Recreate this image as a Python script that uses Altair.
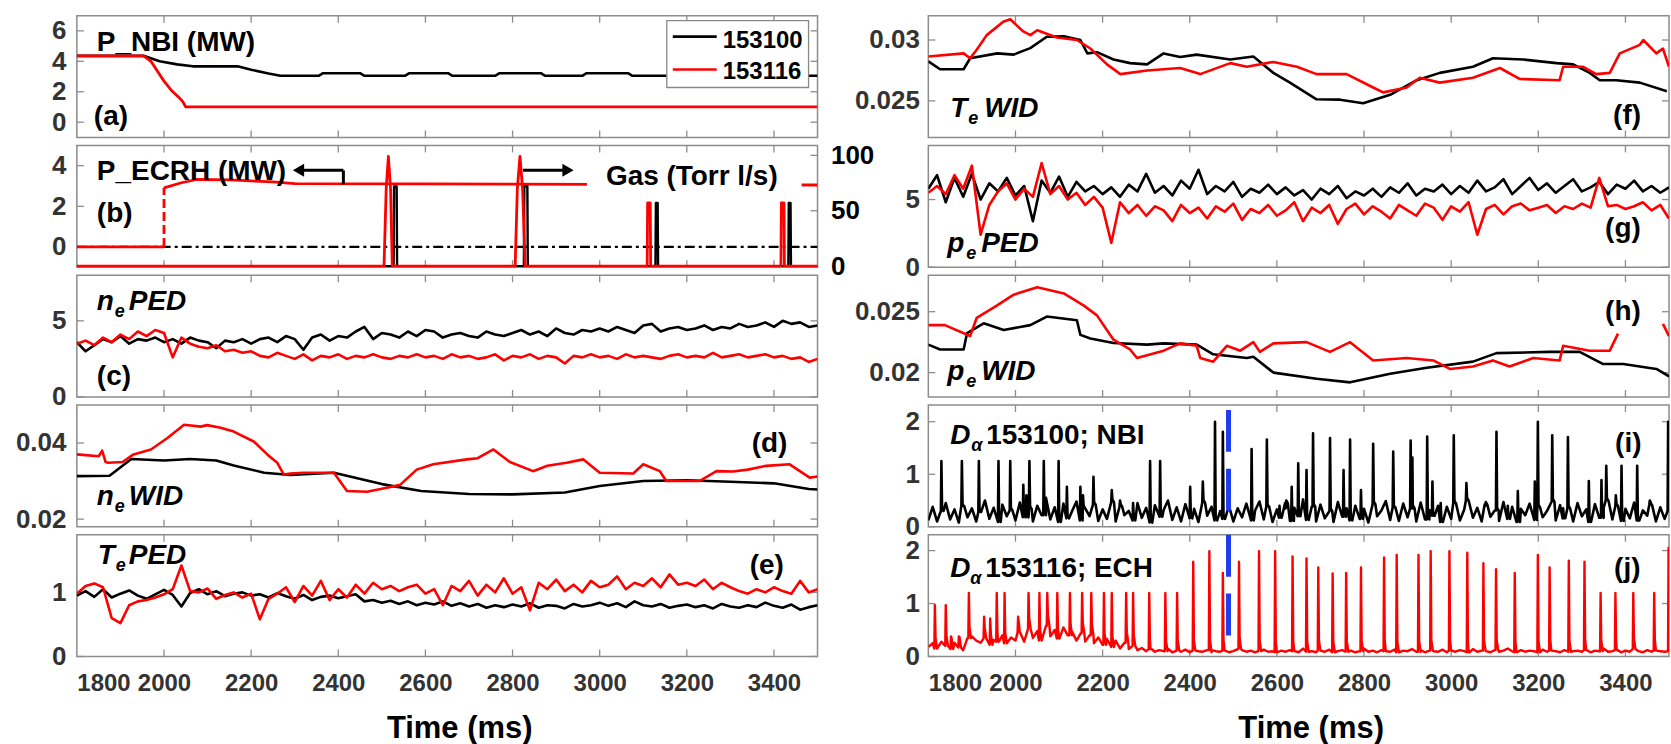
import altair as alt
import pandas as pd

FONT = "Liberation Sans"
W, H = 742, 122
BLK, RED, BLUE, LBL, FRAME = "#000000", "#ff0000", "#1e3cf0", "#333333", "#8c8c8c"
LW = 2.6
X_DOMAIN = [1800, 3500]
X_TICKS = [1800, 2000, 2200, 2400, 2600, 2800, 3000, 3200, 3400]
T20 = list(range(1800, 3501, 20))
T10 = list(range(1800, 3501, 10))

# ---------------- (a) P_NBI ----------------
nbi_black_t = [1800, 1953, 1990, 2030, 2066, 2169, 2200, 2240, 2267, 2355, 2365, 2450, 2460, 2553, 2563,
               2652, 2662, 2760, 2770, 2865, 2875, 2960, 2970, 3065, 3075, 3500]
nbi_black_v = [4.36, 4.36, 4.0, 3.8, 3.67, 3.67, 3.45, 3.2, 3.05, 3.05, 3.22, 3.22, 3.05, 3.05, 3.22,
               3.22, 3.05, 3.05, 3.22, 3.22, 3.05, 3.05, 3.22, 3.22, 3.05, 3.05]
nbi_red_t = [1800, 1953, 1970, 1985, 2000, 2019, 2035, 2042, 2050, 3500]
nbi_red_v = [4.36, 4.36, 4.0, 3.34, 2.7, 2.03, 1.6, 1.4, 1.0, 1.0]

# ---------------- (b) P_ECRH and gas ----------------
ecrh_black_t = [1800, 3500]
ecrh_black_v = [0, 0]
ecrh_red_t = [1800, 2000, 2000, 2040, 2075, 2150, 2250, 2300, 2600, 3000, 3500]
ecrh_red_v = [0, 0, 2.91, 3.16, 3.32, 3.30, 3.20, 3.12, 3.10, 3.08, 3.05]
ecrh_red_seg = [0, 0, 1, 1, 1, 1, 1, 1, 1, 1, 1]
ecrh_jump_t = [2000, 2000]
ecrh_jump_v = [0, 2.91]
gas_red_t = [1800, 2505, 2510, 2515, 2520, 2524, 2806, 2811, 2817, 2823, 2829,
             3109, 3110, 3116, 3117, 3416, 3417, 3423, 3424, 3500]
gas_red_v = [0, 0, 70, 99, 70, 0, 0, 70, 99, 70, 0, 0, 57, 57, 0, 0, 57, 57, 0, 0]
gas_black_t = [1800, 2527, 2528, 2534, 2535, 2826, 2827, 2834, 2835, 3128, 3129, 3133, 3134,
               3433, 3434, 3438, 3439, 3500]
gas_black_v = [0, 0, 72, 72, 0, 0, 72, 72, 0, 0, 57, 57, 0, 0, 57, 57, 0, 0]

# ---------------- (c) n_e PED (20 ms grid) ----------------
ne_ped_black = [3.6, 3.0, 3.4, 3.8, 3.6, 4.0, 3.5, 3.8, 3.7, 3.9, 3.6,
                3.8, 3.5, 3.9, 3.7, 3.6, 3.2, 3.7, 3.6, 3.8, 3.5,
                3.8, 3.9, 3.6, 4.0, 3.8, 3.1, 3.9, 4.1, 3.7, 4.0,
                3.9, 4.3, 4.6, 3.8, 4.2, 4.1, 3.9, 4.3, 4.0, 4.4,
                4.3, 3.9, 4.1, 4.2, 4.0, 3.9, 4.3, 4.1, 4.0, 4.2,
                4.4, 4.1, 4.3, 4.0, 4.5, 4.2, 4.1, 4.4, 4.3, 4.5,
                4.3, 4.6, 4.4, 4.2, 4.7, 4.8, 4.3, 4.5, 4.6, 4.4,
                4.5, 4.7, 4.4, 4.6, 4.5, 4.8, 4.6, 4.7, 4.9, 4.6,
                5.0, 4.8, 4.9, 4.6, 4.7]
ne_ped_red = [3.5, 3.7, 3.4, 3.9, 3.6, 4.1, 3.8, 4.3, 4.0, 4.4, 4.2,
              2.6, 3.9, 3.5, 3.3, 3.2, 3.4, 3.0, 3.1, 2.9, 3.0,
              2.7, 2.6, 2.9, 2.7, 2.5, 2.8, 2.4, 2.7, 2.6, 2.8,
              2.5, 2.7, 2.6, 2.8, 2.6, 2.5, 2.7, 2.6, 2.8, 2.6,
              2.7, 2.5, 2.8, 2.6, 2.7, 2.5, 2.6, 2.8, 2.4, 2.7,
              2.6, 2.8, 2.5, 2.7, 2.6, 2.2, 2.7, 2.6, 2.8, 2.6,
              2.7, 2.5, 2.8, 2.6, 2.7, 2.6, 2.5, 2.7, 2.8, 2.6,
              2.7, 2.6, 2.9, 2.6, 2.7, 2.8, 2.6, 2.7, 2.8, 2.6,
              2.7, 2.5, 2.6, 2.3, 2.5]

# ---------------- (d) n_e WID ----------------
ne_wid_black_t = [1800, 1875, 1925, 2000, 2060, 2120, 2160, 2230, 2290, 2390, 2500, 2590, 2700, 2800,
                  2920, 3000, 3100, 3200, 3300, 3400, 3480, 3500]
ne_wid_black_v = [0.0313, 0.0314, 0.0358, 0.0354, 0.0358, 0.0354, 0.0341, 0.0322, 0.0316, 0.0322, 0.0292,
                  0.0274, 0.0266, 0.0265, 0.0270, 0.0287, 0.0300, 0.0302, 0.0298, 0.0294, 0.0279, 0.0278]
ne_wid_red_t = [1800, 1850, 1858, 1866, 1872, 1905, 1930, 1970, 2008, 2046, 2084, 2099, 2130, 2160, 2206,
                2237, 2260, 2275, 2290, 2320, 2390, 2420, 2466, 2500, 2542, 2580, 2618, 2695, 2720, 2756,
                2794, 2847, 2880, 2924, 2962, 3000, 3077, 3100, 3138, 3153, 3229, 3268, 3306, 3340, 3382,
                3436, 3482, 3500]
ne_wid_red_v = [0.0370, 0.0365, 0.0380, 0.0350, 0.0348, 0.0350, 0.0370, 0.0383, 0.0413, 0.0448, 0.0443,
                0.0447, 0.0440, 0.0430, 0.0404, 0.0370, 0.0348, 0.0317, 0.0320, 0.0322, 0.0322, 0.0274,
                0.0272, 0.0280, 0.0290, 0.0330, 0.0344, 0.0357, 0.0360, 0.0383, 0.0350, 0.0326, 0.0340,
                0.0348, 0.0357, 0.0322, 0.0320, 0.0344, 0.0326, 0.0300, 0.0300, 0.0326, 0.0325, 0.0330,
                0.0340, 0.0344, 0.0309, 0.0312]

# ---------------- (e) T_e PED (20 ms grid) ----------------
te_ped_black = [0.95, 1.02, 0.93, 1.05, 0.92, 0.98, 1.03, 0.95, 0.90, 0.97, 1.04,
                0.96, 0.78, 0.99, 1.05, 0.97, 1.02, 0.94, 0.98, 1.00, 0.95,
                0.97, 0.92, 0.99, 0.94, 0.90, 0.96, 0.88, 0.93, 0.95, 0.91,
                0.94, 0.97, 0.86, 0.88, 0.84, 0.87, 0.82, 0.86, 0.80, 0.84,
                0.81, 0.86, 0.79, 0.83, 0.78, 0.82, 0.76, 0.80, 0.77, 0.81,
                0.78, 0.83, 0.76, 0.80, 0.79, 0.75, 0.82, 0.78, 0.80, 0.84,
                0.79, 0.83, 0.77, 0.86, 0.80, 0.78, 0.82, 0.76, 0.79, 0.81,
                0.77, 0.80, 0.75, 0.82, 0.78, 0.76, 0.80, 0.77, 0.84, 0.79,
                0.76, 0.81, 0.73, 0.77, 0.80]
te_ped_red = [0.98, 1.10, 1.14, 1.08, 0.60, 0.52, 0.80, 0.86, 0.88, 0.92, 0.97,
              1.05, 1.42, 1.02, 1.00, 1.06, 0.90, 0.96, 1.00, 0.92, 0.98,
              0.58, 0.90, 0.98, 1.08, 0.85, 1.10, 0.95, 1.18, 0.88, 1.05,
              0.92, 1.12, 0.98, 1.15, 1.05, 1.10, 1.02, 1.08, 1.12, 0.98,
              1.05, 0.80, 1.10, 1.02, 1.18, 0.95, 1.12, 1.00, 1.22, 0.98,
              1.08, 0.72, 1.15, 1.05, 1.20, 1.02, 1.12, 1.00, 1.18, 1.08,
              1.12, 1.25, 1.05, 1.15, 1.10, 1.22, 1.08, 1.28, 1.12, 1.15,
              1.10, 1.20, 1.05, 1.15, 1.08, 1.02, 0.98, 1.05, 1.00, 1.08,
              1.02, 0.98, 1.18, 1.00, 1.05]

# ---------------- (f) T_e WID ----------------
te_wid_black_t = [1800, 1827, 1881, 1896, 1958, 1996, 2034, 2072, 2111, 2149, 2165, 2187, 2225, 2263,
                  2302, 2340, 2378, 2416, 2493, 2546, 2592, 2630, 2691, 2745, 2798, 2860, 2921, 2974,
                  3050, 3096, 3165, 3242, 3280, 3318, 3341, 3379, 3433, 3495]
te_wid_black_v = [0.02825, 0.0276, 0.0276, 0.0285, 0.0289, 0.0288, 0.02933, 0.03027, 0.0303, 0.0300,
                  0.0289, 0.0290, 0.0284, 0.0281, 0.0280, 0.0289, 0.0286, 0.0288, 0.0284, 0.02865,
                  0.0273, 0.0265, 0.02513, 0.0251, 0.0248, 0.0255, 0.0267, 0.0273, 0.0278, 0.0285,
                  0.0284, 0.0281, 0.0280, 0.0273, 0.0267, 0.0267, 0.0265, 0.0258]
te_wid_red_t = [1800, 1881, 1896, 1911, 1934, 1972, 1988, 2018, 2034, 2050, 2095, 2141, 2172, 2210, 2241,
                2302, 2378, 2424, 2493, 2531, 2592, 2646, 2691, 2760, 2821, 2844, 2898, 2928, 2974, 3050,
                3112, 3157, 3249, 3257, 3303, 3333, 3364, 3387, 3433, 3441, 3471, 3486, 3500]
te_wid_red_v = [0.02865, 0.0289, 0.0285, 0.0292, 0.0304, 0.0315, 0.0317, 0.0307, 0.0304, 0.0308, 0.0302,
                0.0300, 0.0293, 0.0280, 0.0272, 0.0275, 0.0277, 0.0272, 0.0281, 0.0278, 0.0282, 0.0278,
                0.0272, 0.0272, 0.0261, 0.0257, 0.0261, 0.0269, 0.0265, 0.0269, 0.0277, 0.0268, 0.0267,
                0.0278, 0.0278, 0.0272, 0.0273, 0.0289, 0.0296, 0.0300, 0.0289, 0.0293, 0.0278]

# ---------------- (g) p_e PED (20 ms grid) ----------------
pe_ped_black = [5.8, 6.8, 4.8, 6.6, 5.2, 6.9, 5.0, 6.2, 5.6, 6.6, 5.3,
                6.0, 3.4, 6.4, 5.5, 6.7, 5.2, 6.3, 5.6, 6.0, 5.4,
                5.9, 5.2, 6.1, 5.6, 6.9, 5.5, 6.0, 5.3, 6.4, 5.8,
                7.2, 5.4, 6.0, 5.6, 6.3, 5.2, 5.8, 5.5, 6.1, 5.4,
                5.9, 5.3, 5.7, 5.0, 5.8, 5.4, 6.0, 5.1, 5.6, 5.3,
                5.8, 5.2, 5.9, 5.5, 6.2, 5.3, 5.8, 5.6, 6.1, 5.4,
                6.0, 5.5, 6.4, 5.6, 5.9, 6.5, 5.4, 6.0, 6.6, 5.7,
                6.2, 5.5, 6.0, 6.5, 5.6, 5.9, 6.3, 5.4, 6.1, 5.8,
                6.4, 5.6, 6.0, 5.5, 5.9]
pe_ped_red = [5.5, 6.0, 5.4, 6.8, 5.8, 7.5, 2.4, 4.6, 5.6, 6.2, 5.0,
              5.8, 5.2, 7.7, 5.4, 6.0, 5.0, 5.5, 4.6, 5.2, 4.4,
              1.8, 4.8, 4.0, 4.6, 3.8, 4.5, 4.2, 3.4, 4.6, 4.0,
              4.4, 3.6, 4.5, 4.1, 4.7, 3.5, 4.3, 4.0, 4.6, 3.8,
              4.2, 4.8, 3.4, 4.4, 4.0, 4.6, 3.2, 4.3, 4.7, 3.9,
              4.5, 4.1, 3.6, 4.6, 4.2, 3.8, 4.7, 4.4, 3.5, 4.5,
              4.1, 4.8, 2.4, 4.3, 4.6, 3.9, 4.5, 4.7, 4.2, 4.4,
              4.6, 4.0, 4.5, 4.3, 4.7, 4.4, 6.6, 4.5, 4.6, 4.3,
              4.5, 4.8, 4.2, 4.6, 3.6]

# ---------------- (h) p_e WID ----------------
pe_wid_black_t = [1800, 1827, 1881, 1889, 1927, 1973, 2034, 2072, 2141, 2149, 2172, 2225, 2302, 2340,
                  2416, 2454, 2531, 2546, 2592, 2691, 2768, 2860, 2944, 3050, 3104, 3226, 3295, 3349,
                  3395, 3471, 3500]
pe_wid_black_v = [0.0223, 0.0219, 0.0219, 0.02325, 0.02405, 0.0235, 0.0239, 0.0246, 0.0243, 0.0231,
                  0.0228, 0.02243, 0.0223, 0.0224, 0.0223, 0.0215, 0.0212, 0.0213, 0.0200, 0.0195,
                  0.0192, 0.0199, 0.0204, 0.0209, 0.0216, 0.0217, 0.0217, 0.0207, 0.0207, 0.0203, 0.0197]
pe_wid_red_t = [1800, 1838, 1896, 1911, 1957, 1996, 2050, 2111, 2157, 2187, 2225, 2263, 2279, 2340, 2378,
                2416, 2424, 2454, 2485, 2516, 2546, 2561, 2592, 2668, 2722, 2768, 2821, 2898, 2959, 2997,
                3050, 3096, 3134, 3188, 3249, 3257, 3318, 3364, 3383, 3486, 3500]
pe_wid_red_v = [0.0239, 0.0239, 0.0230, 0.0245, 0.0255, 0.0264, 0.0270, 0.0265, 0.0255, 0.0247, 0.0227,
                0.0219, 0.0212, 0.0218, 0.0224, 0.0222, 0.0212, 0.0209, 0.0222, 0.0218, 0.0225, 0.0217,
                0.0224, 0.0225, 0.0217, 0.0225, 0.0210, 0.0212, 0.0210, 0.0203, 0.0205, 0.0210, 0.0205,
                0.0212, 0.0210, 0.0222, 0.0218, 0.0218, 0.0232, 0.0240, 0.0230]
pe_wid_red_seg = [0] * 39 + [1, 1]

# ---------------- (i) D_alpha 153100 (10 ms baseline + ELM spikes) ----------------
da_black_base = [0.12, 0.38, 0.10, 0.30, 0.45, 0.14, 0.33, 0.08, 0.40, 0.18,
                 0.35, 0.10, 0.28, 0.50, 0.15, 0.36, 0.09, 0.42, 0.20, 0.31,
                 0.12, 0.46, 0.18, 0.34, 0.10, 0.40, 0.22, 0.55, 0.14, 0.37,
                 0.09, 0.44, 0.16, 0.30, 0.48, 0.12, 0.35, 0.20, 0.42, 0.11,
                 0.33, 0.15, 0.47, 0.10, 0.38, 0.22, 0.30, 0.12, 0.45, 0.17,
                 0.36, 0.08, 0.41, 0.19, 0.32, 0.50, 0.13, 0.37, 0.10, 0.43,
                 0.16, 0.34, 0.09, 0.46, 0.21, 0.38, 0.12, 0.30, 0.15, 0.40,
                 0.10, 0.35, 0.18, 0.44, 0.12, 0.31, 0.48, 0.14, 0.39, 0.09,
                 0.33, 0.17, 0.45, 0.11, 0.36, 0.20, 0.52, 0.13, 0.38, 0.10,
                 0.42, 0.16, 0.30, 0.09, 0.47, 0.19, 0.35, 0.12, 0.40, 0.15,
                 0.34, 0.08, 0.43, 0.20, 0.31, 0.49, 0.13, 0.37, 0.11, 0.44,
                 0.18, 0.35, 0.10, 0.46, 0.14, 0.32, 0.21, 0.40, 0.09, 0.38,
                 0.15, 0.45, 0.12, 0.33, 0.50, 0.17, 0.36, 0.10, 0.42, 0.19,
                 0.31, 0.11, 0.47, 0.15, 0.38, 0.09, 0.34, 0.22, 0.44, 0.13,
                 0.37, 0.18, 0.30, 0.48, 0.12, 0.41, 0.16, 0.35, 0.10, 0.45,
                 0.20, 0.33, 0.09, 0.43, 0.17, 0.36, 0.50, 0.14, 0.39, 0.11,
                 0.34, 0.16, 0.46, 0.12, 0.31, 0.21, 0.42, 0.10, 0.37, 0.15,
                 0.30]
da_black_spike_t = [1830, 1877, 1916, 1961, 1988, 2018, 2025, 2032, 2065, 2099, 2118, 2149, 2155, 2179,
                    2221, 2240, 2270, 2309, 2332, 2401, 2430, 2458, 2476, 2542, 2577, 2606, 2620, 2634,
                    2649, 2668, 2683, 2722, 2753, 2768, 2793, 2821, 2867, 2907, 2911, 2945, 2957, 2976,
                    3006, 3035, 3078, 3104, 3130, 3153, 3192, 3199, 3232, 3257, 3268, 3316, 3345, 3356,
                    3378, 3391, 3427, 3456, 3498]
da_black_spike_h = [1.25, 1.25, 1.25, 1.25, 1.25, 0.80, 0.60, 1.25, 1.25, 1.25, 0.76, 0.76, 0.60, 0.95,
                    0.70, 0.50, 0.45, 1.25, 1.25, 0.76, 0.86, 2.00, 1.81, 1.48, 1.66, 0.40, 0.35, 0.76,
                    1.21, 1.08, 1.78, 1.69, 1.08, 1.66, 0.70, 1.58, 1.43, 1.64, 1.32, 1.72, 0.86, 0.45,
                    1.74, 0.83, 0.40, 1.81, 0.40, 0.68, 0.86, 2.00, 1.74, 0.35, 1.71, 0.87, 0.89, 1.16,
                    0.60, 1.16, 1.16, 0.50, 2.00]

# ---------------- (j) D_alpha 153116 ----------------
da_red_base = [0.18, 0.25, 0.15, 0.28, 0.20, 0.14, 0.26, 0.17, 0.12, 0.35,
               0.38, 0.30, 0.26, 0.34, 0.22, 0.31, 0.28, 0.40, 0.25, 0.36,
               0.30, 0.45, 0.28, 0.52, 0.35, 0.48, 0.30, 0.58, 0.38, 0.50,
               0.34, 0.55, 0.40, 0.47, 0.30, 0.44, 0.28, 0.40, 0.25, 0.36,
               0.22, 0.33, 0.18, 0.30, 0.15, 0.26, 0.14, 0.20, 0.12, 0.16,
               0.10, 0.14, 0.09, 0.12, 0.10, 0.15, 0.08, 0.11, 0.09, 0.13,
               0.08, 0.11, 0.10, 0.09, 0.12, 0.08, 0.10, 0.09, 0.11, 0.08,
               0.10, 0.14, 0.12, 0.09, 0.11, 0.08, 0.10, 0.13, 0.09, 0.10,
               0.08, 0.11, 0.09, 0.12, 0.10, 0.08, 0.15, 0.09, 0.10, 0.08,
               0.11, 0.09, 0.13, 0.08, 0.10, 0.12, 0.09, 0.11, 0.08, 0.10,
               0.15, 0.09, 0.11, 0.08, 0.12, 0.10, 0.09, 0.13, 0.08, 0.11,
               0.10, 0.14, 0.09, 0.12, 0.08, 0.11, 0.10, 0.09, 0.13, 0.08,
               0.11, 0.09, 0.12, 0.10, 0.08, 0.14, 0.09, 0.11, 0.10, 0.08,
               0.12, 0.09, 0.11, 0.15, 0.10, 0.08, 0.12, 0.09, 0.11, 0.10,
               0.08, 0.13, 0.09, 0.11, 0.10, 0.08, 0.12, 0.09, 0.10, 0.11,
               0.09, 0.12, 0.08, 0.11, 0.10, 0.15, 0.09, 0.10, 0.12, 0.08,
               0.11, 0.09, 0.14, 0.10, 0.08, 0.12, 0.09, 0.11, 0.10, 0.09,
               0.10]
da_red_spike_t = [1815, 1840, 1852, 1870, 1893, 1928, 1942, 1957, 1975, 2006, 2030, 2055, 2073, 2096,
                  2125, 2153, 2174, 2203, 2221, 2254, 2270, 2307, 2344, 2371, 2408, 2445, 2476, 2513,
                  2559, 2596, 2636, 2668, 2695, 2728, 2759, 2793, 2846, 2875, 2925, 2953, 2996, 3037,
                  3074, 3103, 3146, 3199, 3226, 3270, 3306, 3343, 3377, 3418, 3466, 3499]
da_red_spike_h = [0.97, 0.97, 0.38, 0.38, 1.20, 0.75, 0.72, 1.20, 1.20, 0.75, 1.20, 1.20, 1.20, 1.20,
                  1.20, 1.20, 1.20, 1.20, 1.20, 1.20, 1.20, 1.20, 1.20, 1.20, 1.79, 1.99, 1.58, 1.79,
                  1.99, 1.99, 1.89, 1.85, 1.68, 1.57, 1.58, 1.68, 1.87, 1.92, 1.92, 1.99, 1.99, 1.96,
                  1.76, 1.65, 1.58, 1.92, 1.68, 1.81, 1.79, 1.20, 1.20, 1.20, 1.20, 2.05]
elm_marker_t = [2489]

for a, b in [(nbi_black_t, nbi_black_v), (nbi_red_t, nbi_red_v), (ecrh_red_t, ecrh_red_v),
             (gas_red_t, gas_red_v), (gas_black_t, gas_black_v), (T20, ne_ped_black), (T20, ne_ped_red),
             (ne_wid_black_t, ne_wid_black_v), (ne_wid_red_t, ne_wid_red_v), (T20, te_ped_black),
             (T20, te_ped_red), (te_wid_black_t, te_wid_black_v), (te_wid_red_t, te_wid_red_v),
             (T20, pe_ped_black), (T20, pe_ped_red), (pe_wid_black_t, pe_wid_black_v),
             (pe_wid_red_t, pe_wid_red_v), (T10, da_black_base), (T10, da_red_base),
             (da_black_spike_t, da_black_spike_h), (da_red_spike_t, da_red_spike_h)]:
    assert len(a) == len(b), (len(a), len(b))


def dalpha(base, spike_t, spike_h, tail):
    pts = [(t, b) for t, b in zip(T10, base) if all(abs(t - s) > 2 for s in spike_t)]
    for s, h in zip(spike_t, spike_h):
        b = base[min(max(int(round((s - 1800) / 10)), 0), len(base) - 1)]
        pts += [(s - 1.2, b), (s, h), (s + 1.5, b + tail), (s + 5, b)]
    pts.sort()
    return [p[0] for p in pts], [p[1] for p in pts]


# ---------------- helpers ----------------
ONE = pd.DataFrame({"k": [0]})
TICK_FS = 26


def xaxis(bottom):
    if not bottom:
        return None
    return alt.Axis(values=X_TICKS, format="d", tickSize=0, domain=False, grid=False, labelFont=FONT,
                    labelFontSize=24, labelFontWeight="bold", labelColor=LBL, labelPadding=15,
                    title="Time (ms)", titleFont=FONT, titleFontSize=31, titleFontWeight="bold",
                    titleColor=BLK, titlePadding=18, titleX=383)


def yaxis(values, pad, orient="left", color=LBL):
    return alt.Axis(values=values, orient=orient, tickSize=0, domain=False, grid=False,
                    labelFont=FONT, labelFontSize=TICK_FS, labelFontWeight="bold", labelColor=color,
                    labelPadding=pad, labelExpr="'' + datum.value", title=None)


def xenc(bottom):
    return alt.X("t:Q", scale=alt.Scale(domain=X_DOMAIN, nice=False, zero=False), axis=xaxis(bottom))


def yenc(ydom, yax):
    return alt.Y("v:Q", scale=alt.Scale(domain=ydom, nice=False, zero=False), axis=yax)


def L(t, v, color, ydom, yax, bottom, width=LW, dash=None, seg=None):
    d = {"t": t, "v": v}
    if seg is not None:
        d["seg"] = seg
    kw = dict(color=color, strokeWidth=width, clip=True, strokeJoin="round")
    if dash is not None:
        kw["strokeDash"] = dash
    enc = dict(x=xenc(bottom), y=yenc(ydom, yax))
    if seg is not None:
        enc["detail"] = "seg:N"
    return alt.Chart(pd.DataFrame(d)).mark_line(**kw).encode(**enc)


def YTICKS(values, ydom, yax, side="both"):
    """Inward tick marks on the left / right frame edges, placed by the y scale."""
    d = pd.DataFrame({"v": values})
    out = []
    if side in ("both", "left"):
        out.append(alt.Chart(d).mark_rule(color=FRAME, strokeWidth=1.3).encode(
            x=alt.value(0), x2=alt.value(7), y=yenc(ydom, yax)))
    if side in ("both", "right"):
        out.append(alt.Chart(d).mark_rule(color=FRAME, strokeWidth=1.3).encode(
            x=alt.value(W - 7), x2=alt.value(W), y=yenc(ydom, yax)))
    return out


def XTICKS(bottom):
    d = pd.DataFrame({"t": X_TICKS[1:]})
    return [alt.Chart(d).mark_rule(color=FRAME, strokeWidth=1.3).encode(
                x=xenc(bottom), y=alt.value(0), y2=alt.value(7)),
            alt.Chart(d).mark_rule(color=FRAME, strokeWidth=1.3).encode(
                x=xenc(bottom), y=alt.value(H - 7), y2=alt.value(H))]


def TX(s, x, y, size=28, italic=False, color=BLK, weight="bold"):
    kw = dict(text=s, align="left", baseline="alphabetic", font=FONT, fontSize=size,
              fontWeight=weight, color=color)
    if italic:
        kw["fontStyle"] = "italic"
    return alt.Chart(ONE).mark_text(**kw).encode(x=alt.value(x), y=alt.value(y))


def SUBLBL(main, sub, rest, x, y, xs, xr, rest_italic=True):
    return [TX(main, x, y, 28, True), TX(sub, xs, y + 7, 18, True),
            TX(rest, xr, y, 28, rest_italic)]


def RULE(x1, x2, y1, y2, color=BLK, width=3):
    return alt.Chart(ONE).mark_rule(color=color, strokeWidth=width).encode(
        x=alt.value(x1), x2=alt.value(x2), y=alt.value(y1), y2=alt.value(y2))


def BOX(x1, x2, y1, y2, stroke=None):
    kw = dict(color="white", opacity=1)
    if stroke:
        kw.update(stroke=stroke, strokeWidth=1.3)
    return alt.Chart(ONE).mark_rect(**kw).encode(
        x=alt.value(x1), x2=alt.value(x2), y=alt.value(y1), y2=alt.value(y2))


def HEAD(x, y, shape):
    return alt.Chart(ONE).mark_point(shape=shape, filled=True, size=170, color=BLK, opacity=1).encode(
        x=alt.value(x), y=alt.value(y))


def ELM(bottom, y1, y2):
    return alt.Chart(pd.DataFrame({"t": elm_marker_t})).mark_rule(
        color=BLUE, strokeWidth=5, strokeDash=[42, 17]).encode(
        x=xenc(bottom), y=alt.value(y1), y2=alt.value(y2))


def simple_panel(lines, ydom, yvals, yax, bottom, extras):
    return alt.layer(*XTICKS(bottom), *YTICKS(yvals, ydom, yax), *lines, *extras).properties(
        width=W, height=H)


# ---------------- left column ----------------
ya = yaxis([0, 2, 4, 6], 11)
pa = simple_panel(
    [L(nbi_black_t, nbi_black_v, BLK, [-1, 7], ya, False),
     L(nbi_red_t, nbi_red_v, RED, [-1, 7], ya, False, width=2.8)],
    [-1, 7], [0, 2, 4, 6], ya, False,
    [BOX(591, 733, 5, 72, stroke="#888888"),
     RULE(597, 641, 21, 21, BLK, 2.6), RULE(597, 641, 54, 54, RED, 2.6),
     TX("153100", 647, 32, 24), TX("153116", 647, 63, 24),
     TX("P_NBI (MW)", 20, 35), TX("(a)", 17, 110)])

yb = yaxis([0, 2, 4], 11)
yg = yaxis([0, 50, 100], 13, orient="right", color=BLK)
ecrh = alt.layer(
    *YTICKS([0, 2, 4], [-1, 5], yb, side="left"),
    L(ecrh_black_t, ecrh_black_v, BLK, [-1, 5], yb, False, width=2.2, dash=[10, 4, 3, 4]),
    L(ecrh_red_t, ecrh_red_v, RED, [-1, 5], yb, False, width=2.8, seg=ecrh_red_seg),
    L(ecrh_jump_t, ecrh_jump_v, RED, [-1, 5], yb, False, width=2.8, dash=[9, 4]),
)
gas = alt.layer(
    *YTICKS([0, 50, 100], [-1, 109], yg, side="right"),
    L(gas_black_t, gas_black_v, BLK, [-1, 109], yg, False, width=2.4),
    L(gas_red_t, gas_red_v, RED, [-1, 109], yg, False, width=2.8),
)
pb = alt.layer(
    *XTICKS(False), ecrh, gas,
    BOX(511, 726, 17, 47),
    TX("P_ECRH (MW)", 20, 35), TX("(b)", 20, 77), TX("Gas (Torr l/s)", 530, 40),
    RULE(226, 267, 25, 25), RULE(267, 267, 25, 39), HEAD(222, 25, "triangle-left"),
    RULE(447, 488, 25, 25), HEAD(492, 25, "triangle-right"),
).resolve_scale(y="independent").properties(width=W, height=H)

yc = yaxis([0, 5], 11)
pc = simple_panel(
    [L(T20, ne_ped_black, BLK, [0, 8], yc, False), L(T20, ne_ped_red, RED, [0, 8], yc, False)],
    [0, 8], [0, 5], yc, False,
    [*SUBLBL("n", "e", "PED", 20, 35, 38, 52), TX("(c)", 20, 110)])

yd = yaxis([0.02, 0.04], 11)
pd_ = simple_panel(
    [L(ne_wid_black_t, ne_wid_black_v, BLK, [0.018, 0.05], yd, False),
     L(ne_wid_red_t, ne_wid_red_v, RED, [0.018, 0.05], yd, False)],
    [0.018, 0.05], [0.02, 0.04], yd, False,
    [*SUBLBL("n", "e", "WID", 20, 100, 38, 52), TX("(d)", 676, 47)])

ye = yaxis([0, 1], 11)
pe = simple_panel(
    [L(T20, te_ped_black, BLK, [0, 1.9], ye, True), L(T20, te_ped_red, RED, [0, 1.9], ye, True)],
    [0, 1.9], [0, 1], ye, True,
    [*SUBLBL("T", "e", "PED", 21, 29, 39, 52), TX("(e)", 674, 39)])

# ---------------- right column ----------------
yf = yaxis([0.025, 0.03], 9)
pf = simple_panel(
    [L(te_wid_black_t, te_wid_black_v, BLK, [0.022, 0.032], yf, False),
     L(te_wid_red_t, te_wid_red_v, RED, [0.022, 0.032], yf, False)],
    [0.022, 0.032], [0.025, 0.03], yf, False,
    [*SUBLBL("T", "e", "WID", 22, 102, 40, 56), TX("(f)", 686, 109)])

ygp = yaxis([0, 5], 9)
pg = simple_panel(
    [L(T20, pe_ped_black, BLK, [0, 9], ygp, False), L(T20, pe_ped_red, RED, [0, 9], ygp, False)],
    [0, 9], [0, 5], ygp, False,
    [*SUBLBL("p", "e", "PED", 19, 107, 38, 53), TX("(g)", 678, 92)])

yh = yaxis([0.02, 0.025], 9)
ph = simple_panel(
    [L(pe_wid_black_t, pe_wid_black_v, BLK, [0.018, 0.028], yh, False),
     L(pe_wid_red_t, pe_wid_red_v, RED, [0.018, 0.028], yh, False, seg=pe_wid_red_seg)],
    [0.018, 0.028], [0.02, 0.025], yh, False,
    [*SUBLBL("p", "e", "WID", 19, 105, 38, 53), TX("(h)", 678, 45)])

bt, bv = dalpha(da_black_base, da_black_spike_t, da_black_spike_h, 0.05)
yi = yaxis([0, 1, 2], 9)
pi = simple_panel(
    [L(bt, bv, BLK, [0, 2.32], yi, False, width=2.6)],
    [0, 2.32], [0, 1, 2], yi, False,
    [ELM(False, 5, 118),
     *SUBLBL("D", "α", "153100; NBI", 22, 39, 43, 58, rest_italic=False), TX("(i)", 688, 47)])

rt, rv = dalpha(da_red_base, da_red_spike_t, da_red_spike_h, 0.2)
yj = yaxis([0, 1, 2], 9)
pj = simple_panel(
    [L(rt, rv, RED, [0, 2.3], yj, True, width=2.4)],
    [0, 2.3], [0, 1, 2], yj, True,
    [ELM(True, 0, 117),
     *SUBLBL("D", "α", "153116; ECH", 22, 42, 42, 57, rest_italic=False), TX("(j)", 687, 42)])

chart = alt.concat(
    pa, pf, pb, pg, pc, ph, pd_, pi, pe, pj,
    columns=2, spacing={"row": 8, "column": 111}, bounds="flush",
).properties(
    padding={"left": 14, "top": 13, "right": 0, "bottom": 0},
    background="white",
).configure_view(stroke=FRAME, strokeWidth=1.5)

chart.save("out.html", embed_options={"renderer": "svg", "actions": False})
